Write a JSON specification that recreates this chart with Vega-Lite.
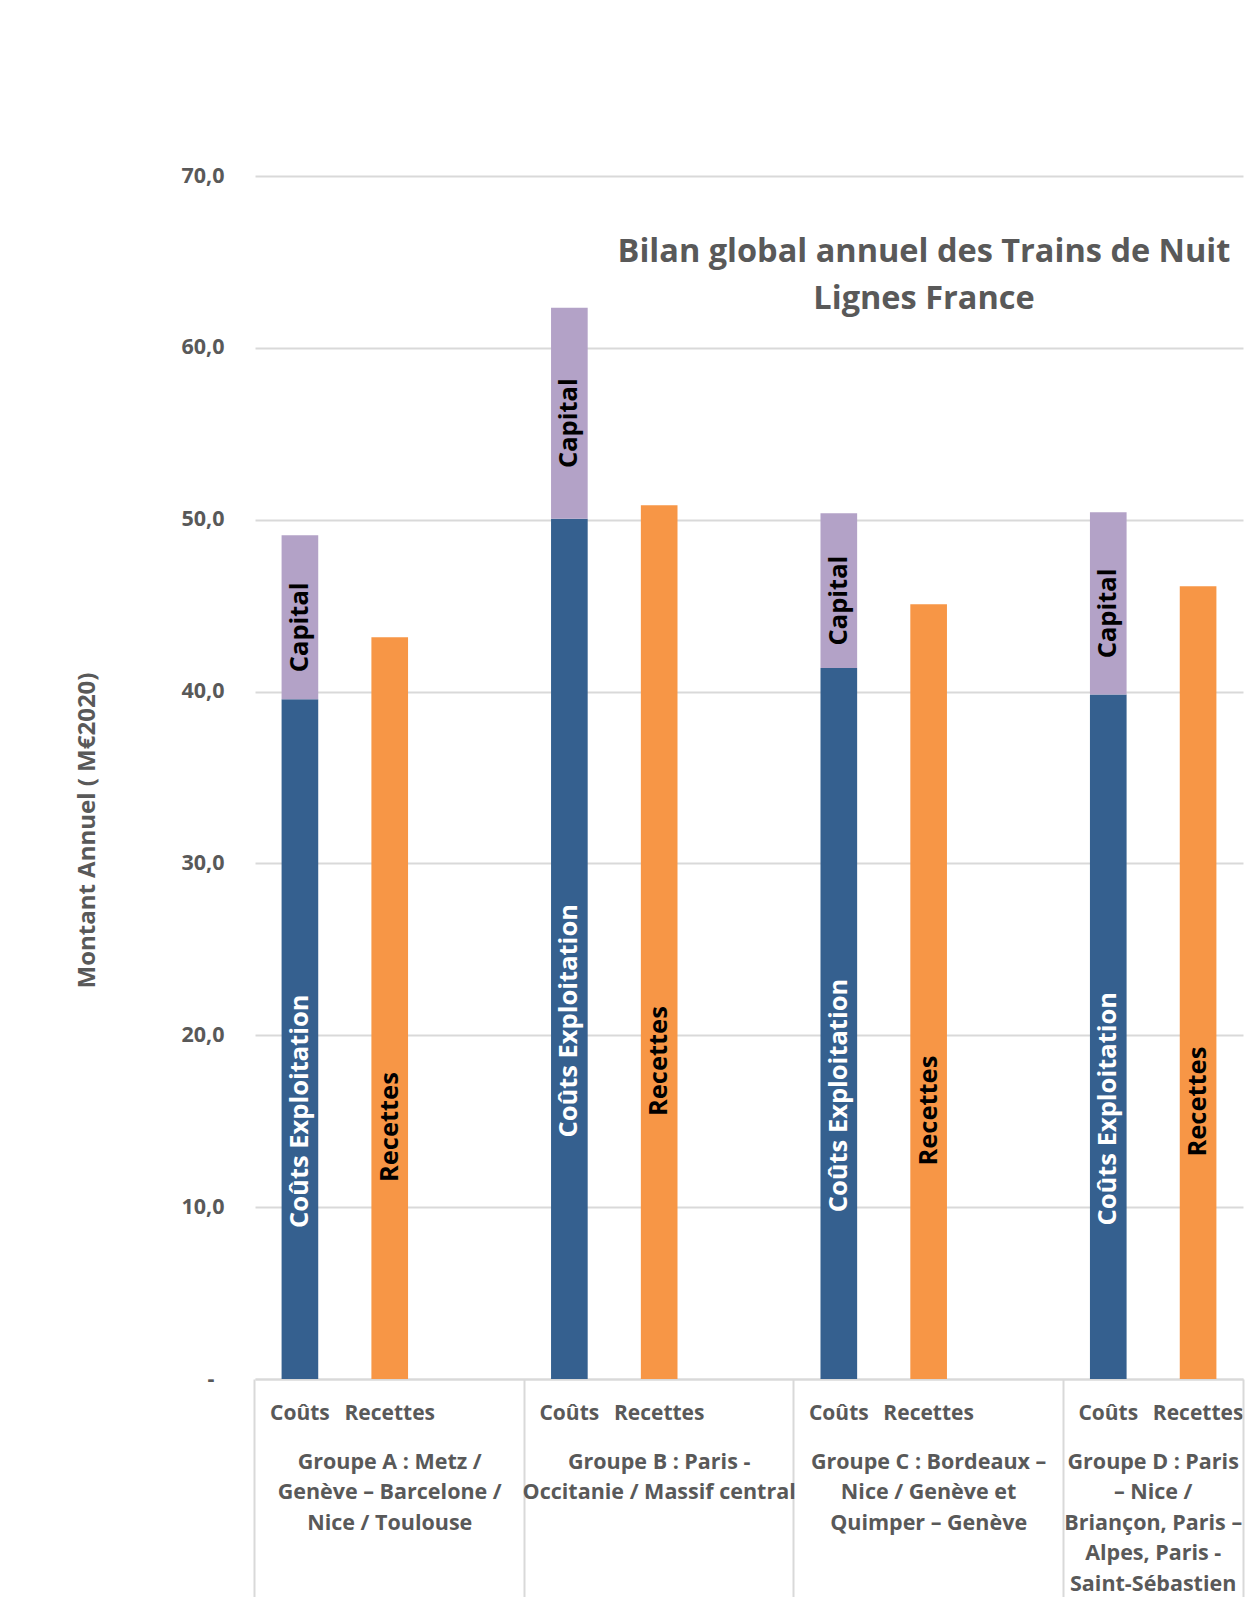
{
  "$schema": "https://vega.github.io/schema/vega-lite/v6.json",
  "width": 988,
  "height": 1203,
  "autosize": {"type": "none"},
  "padding": {"left": 255, "top": 176, "right": 4, "bottom": 218},
  "background": "white",
  "config": {"view": {"stroke": null}, "font": "Open Sans"},
  "title": {
    "text": ["Bilan global annuel des Trains de Nuit", "Lignes France"],
    "font": "Open Sans",
    "fontSize": 32.5,
    "fontWeight": "bold",
    "color": "#595959",
    "anchor": "middle",
    "frame": "group",
    "dx": 175,
    "offset": -150,
    "lineHeight": 47
  },
  "data": {
    "values": [
      {"barre": "A1", "serie": "Coûts Exploitation", "valeur": 39.55},
      {"barre": "A1", "serie": "Capital", "valeur": 9.54},
      {"barre": "A2", "serie": "Recettes", "valeur": 43.16},
      {"barre": "B1", "serie": "Coûts Exploitation", "valeur": 50.06},
      {"barre": "B1", "serie": "Capital", "valeur": 12.28},
      {"barre": "B2", "serie": "Recettes", "valeur": 50.84},
      {"barre": "C1", "serie": "Coûts Exploitation", "valeur": 41.37},
      {"barre": "C1", "serie": "Capital", "valeur": 9.01},
      {"barre": "C2", "serie": "Recettes", "valeur": 45.08},
      {"barre": "D1", "serie": "Coûts Exploitation", "valeur": 39.83},
      {"barre": "D1", "serie": "Capital", "valeur": 10.6},
      {"barre": "D2", "serie": "Recettes", "valeur": 46.13}
    ]
  },
  "resolve": {"axis": {"x": "independent", "y": "independent"}},
  "layer": [
    {
      "mark": {"type": "bar"},
      "encoding": {
        "x": {
          "field": "barre", "type": "nominal",
          "scale": {"domain": ["A1","A2","A3","B1","B2","B3","C1","C2","C3","D1","D2"], "paddingInner": 0.592, "paddingOuter": 0.296},
          "axis": {
            "orient": "bottom",
            "labelExpr": "slice(datum.value,1) == '1' ? 'Coûts' : (slice(datum.value,1) == '2' ? 'Recettes' : '')",
            "labelAngle": 0, "ticks": false, "grid": false,
            "domain": true, "domainColor": "#D9D9D9", "domainWidth": 2,
            "labelFont": "Open Sans", "labelFontSize": 21, "labelFontWeight": "bold", "labelColor": "#595959",
            "labelPadding": 23, "labelOverlap": false, "labelBound": false, "labelFlush": false,
            "title": null
          }
        },
        "y": {
          "field": "valeur", "type": "quantitative", "stack": "zero",
          "scale": {"domain": [0, 70], "nice": false, "zero": true},
          "axis": {
            "values": [0, 10, 20, 30, 40, 50, 60, 70],
            "labelExpr": "datum.value == 0 ? '-' : replace(format(datum.value, '.1f'), '.', ',')",
            "grid": true, "gridColor": "#D9D9D9", "gridWidth": 2,
            "domain": false, "ticks": false,
            "labelFont": "Open Sans", "labelFontSize": 21.5, "labelFontWeight": "bold", "labelColor": "#595959",
            "labelPadding": {"condition": {"test": "datum.value == 0", "value": 41}, "value": 31},
            "title": "Montant Annuel ( M€2020)",
            "titleFont": "Open Sans", "titleFontSize": 24, "titleFontWeight": "bold", "titleColor": "#595959",
            "titleX": -168, "titleY": 654, "titleBaseline": "middle", "titleAlign": "center", "titleAngle": 270
          }
        },
        "color": {
          "field": "serie", "type": "nominal",
          "scale": {"domain": ["Coûts Exploitation", "Capital", "Recettes"], "range": ["#35608F", "#B3A2C7", "#F79646"]},
          "legend": null
        },
        "order": {"field": "serie", "sort": "descending"}
      }
    },
    {
      "transform": [
        {"stack": "valeur", "groupby": ["barre"], "sort": [{"field": "serie", "order": "descending"}], "as": ["bas", "haut"]},
        {"calculate": "(datum.bas + datum.haut) / 2", "as": "milieu"},
        {"filter": "datum.serie == 'Coûts Exploitation'"}
      ],
      "mark": {"type": "text", "angle": 270, "dx": -72, "color": "white", "font": "Open Sans", "fontSize": 25.5, "fontWeight": "bold", "align": "center", "baseline": "middle"},
      "encoding": {
        "x": {
          "field": "barre", "type": "nominal",
          "scale": {"domain": ["A1","A2","A3","B1","B2","B3","C1","C2","C3","D1","D2"], "paddingInner": 0.592, "paddingOuter": 0.296},
          "axis": {
            "orient": "bottom", "bandPosition": -0.7255,
            "labelExpr": "datum.value == 'A1' ? ['Groupe A : Metz /', 'Genève – Barcelone /', 'Nice / Toulouse'] : (datum.value == 'B1' ? ['Groupe B : Paris -', 'Occitanie / Massif central'] : (datum.value == 'C1' ? ['Groupe C : Bordeaux –', 'Nice / Genève et', 'Quimper – Genève'] : (datum.value == 'D1' ? ['Groupe D : Paris', '– Nice /', 'Briançon, Paris –', 'Alpes, Paris -', 'Saint-Sébastien'] : '')))",
            "labelOffset": {"condition": {"test": "datum.value == 'D1'", "value": 44.9}, "value": 89.8},
            "ticks": true, "tickSize": 230, "tickWidth": 2, "tickColor": "#D9D9D9",
            "tickOpacity": {"condition": {"test": "indexof(['A1','B1','C1','D1'], datum.value) >= 0", "value": 1}, "value": 0},
            "domain": false, "grid": false, "labelAngle": 0,
            "labelPadding": -158, "labelLineHeight": 30.6, "labelLimit": 500,
            "labelFont": "Open Sans", "labelFontSize": 21.5, "labelFontWeight": "bold", "labelColor": "#595959",
            "labelAlign": "center", "labelBaseline": "top",
            "labelOverlap": false, "labelBound": false, "labelFlush": false,
            "title": null
          }
        },
        "y": {"field": "milieu", "type": "quantitative", "scale": {"domain": [0, 70], "nice": false, "zero": true}, "axis": null},
        "text": {"field": "serie"}
      }
    },
    {
      "transform": [
        {"stack": "valeur", "groupby": ["barre"], "sort": [{"field": "serie", "order": "descending"}], "as": ["bas", "haut"]},
        {"calculate": "(datum.bas + datum.haut) / 2", "as": "milieu"},
        {"filter": "datum.serie == 'Capital'"}
      ],
      "mark": {"type": "text", "angle": 270, "dx": -10, "color": "black", "font": "Open Sans", "fontSize": 25.5, "fontWeight": "bold", "align": "center", "baseline": "middle"},
      "encoding": {
        "x": {
          "field": "barre", "type": "nominal",
          "scale": {"domain": ["A1","A2","A3","B1","B2","B3","C1","C2","C3","D1","D2"], "paddingInner": 0.592, "paddingOuter": 0.296},
          "axis": {
            "orient": "bottom", "bandPosition": 1.7255,
            "labels": false, "domain": false, "grid": false,
            "ticks": true, "tickSize": 230, "tickWidth": 2, "tickColor": "#D9D9D9",
            "tickOpacity": {"condition": {"test": "datum.value == 'D2'", "value": 1}, "value": 0},
            "title": null
          }
        },
        "y": {"field": "milieu", "type": "quantitative", "scale": {"domain": [0, 70], "nice": false, "zero": true}, "axis": null},
        "text": {"field": "serie"}
      }
    },
    {
      "transform": [
        {"stack": "valeur", "groupby": ["barre"], "sort": [{"field": "serie", "order": "descending"}], "as": ["bas", "haut"]},
        {"calculate": "(datum.bas + datum.haut) / 2", "as": "milieu"},
        {"filter": "datum.serie == 'Recettes'"}
      ],
      "mark": {"type": "text", "angle": 270, "dx": -119, "color": "black", "font": "Open Sans", "fontSize": 25.5, "fontWeight": "bold", "align": "center", "baseline": "middle"},
      "encoding": {
        "x": {
          "field": "barre", "type": "nominal",
          "scale": {"domain": ["A1","A2","A3","B1","B2","B3","C1","C2","C3","D1","D2"], "paddingInner": 0.592, "paddingOuter": 0.296},
          "axis": null
        },
        "y": {"field": "milieu", "type": "quantitative", "scale": {"domain": [0, 70], "nice": false, "zero": true}, "axis": null},
        "text": {"field": "serie"}
      }
    }
  ]
}
